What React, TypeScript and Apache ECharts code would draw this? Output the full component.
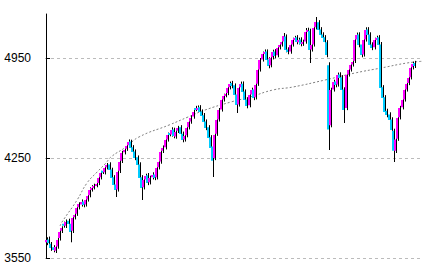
import React, { useEffect, useRef } from "react";
import * as echarts from "echarts";

// Daily candles, index 0..171 (left to right)
const opens = [
  3660, 3680, 3650, 3625, 3600, 3630, 3690, 3740, 3790, 3775,
  3810, 3790, 3740, 3835, 3860, 3905, 3925, 3945, 3925, 3960,
  3990, 4030, 4045, 4060, 4075, 4115, 4160, 4150, 4185, 4205,
  4170, 4115, 4065, 4030, 4160, 4230, 4290, 4315, 4340, 4365,
  4325, 4295, 4255, 4205, 4115, 4045, 4100, 4130, 4080, 4115,
  4135, 4115, 4185, 4225, 4300, 4325, 4380, 4425, 4415, 4450,
  4400, 4440, 4465, 4420, 4380, 4410, 4465, 4505, 4540, 4600,
  4590, 4605, 4575, 4550, 4505, 4465, 4395, 4330, 4250, 4420,
  4520, 4590, 4660, 4690, 4705, 4745, 4775, 4760, 4695, 4625,
  4745, 4770, 4715, 4660, 4620, 4695, 4730, 4675, 4770, 4870,
  4940, 4985, 4995, 4940, 4900, 4955, 4995, 4970, 5025, 5045,
  5065, 5100, 5010, 4995, 5045, 5080, 5095, 5060, 5080, 5050,
  5065, 5135, 5140, 5010, 5045, 5165, 5200, 5150, 5115, 5095,
  5060, 4900, 4480, 4730, 4785, 4765, 4835, 4815, 4730, 4600,
  4835, 4870, 4905, 4930, 5080, 5115, 5045, 4975, 5080, 5150,
  5115, 5045, 5025, 5080, 5095, 5045, 4745, 4675, 4580, 4555,
  4520, 4440, 4300, 4385, 4535, 4605, 4660, 4730, 4775, 4815,
  4885, 4915,
];
const closes = [
  3676, 3655, 3620, 3606, 3627, 3676, 3732, 3760, 3781, 3802,
  3788, 3732, 3830, 3851, 3900, 3928, 3942, 3921, 3956, 3984,
  4026, 4040, 4054, 4068, 4110, 4145, 4152, 4180, 4201, 4166,
  4110, 4061, 4026, 4152, 4222, 4285, 4306, 4334, 4362, 4320,
  4292, 4250, 4201, 4110, 4040, 4096, 4124, 4075, 4110, 4131,
  4110, 4180, 4222, 4292, 4320, 4376, 4411, 4418, 4446, 4404,
  4432, 4460, 4418, 4376, 4404, 4460, 4502, 4530, 4572, 4593,
  4600, 4572, 4544, 4502, 4460, 4390, 4320, 4230, 4411, 4516,
  4586, 4656, 4684, 4698, 4740, 4768, 4754, 4691, 4621, 4740,
  4768, 4712, 4656, 4614, 4691, 4726, 4670, 4761, 4866, 4936,
  4978, 4992, 4936, 4894, 4950, 4992, 4964, 5020, 5041, 5062,
  5104, 5006, 4992, 5041, 5076, 5090, 5062, 5076, 5048, 5062,
  5132, 5146, 5006, 5041, 5160, 5202, 5146, 5111, 5090, 5062,
  4971, 4450, 4726, 4782, 4761, 4831, 4810, 4726, 4586, 4831,
  4866, 4901, 4922, 5076, 5111, 5041, 4971, 5076, 5146, 5111,
  5041, 5020, 5076, 5090, 5041, 4740, 4670, 4572, 4551, 4516,
  4446, 4300, 4380, 4530, 4600, 4656, 4726, 4768, 4810, 4880,
  4908, 4894,
];
const lows = [
  3640, 3635, 3600, 3590, 3585, 3615, 3672, 3725, 3762, 3760,
  3770, 3660, 3725, 3820, 3845, 3890, 3910, 3905, 3910, 3945,
  3975, 4015, 4030, 4045, 4060, 4100, 4138, 4135, 4170, 4150,
  4095, 4045, 3977, 4015, 4145, 4215, 4275, 4300, 4325, 4305,
  4275, 4235, 4185, 4090, 3956, 4030, 4085, 4060, 4065, 4100,
  4095, 4100, 4170, 4210, 4285, 4310, 4365, 4402, 4400, 4388,
  4385, 4425, 4402, 4360, 4365, 4395, 4450, 4490, 4525, 4578,
  4575, 4556, 4528, 4486, 4445, 4372, 4300, 4117, 4235, 4405,
  4505, 4575, 4645, 4675, 4690, 4730, 4738, 4675, 4565, 4610,
  4730, 4696, 4640, 4598, 4605, 4680, 4655, 4660, 4755, 4855,
  4925, 4970, 4920, 4878, 4885, 4940, 4948, 4955, 5010, 5030,
  5050, 4990, 4976, 4980, 5030, 5065, 5046, 5045, 5032, 5035,
  5050, 5120, 4915, 4995, 5030, 5150, 5130, 5095, 5075, 5046,
  4955, 4306, 4465, 4715, 4745, 4750, 4795, 4710, 4495, 4585,
  4820, 4855, 4890, 4915, 5065, 5025, 4955, 4960, 5065, 5095,
  5025, 5005, 5010, 5065, 5025, 4725, 4655, 4556, 4535, 4500,
  4430, 4222, 4285, 4370, 4520, 4590, 4645, 4715, 4760, 4800,
  4870, 4880,
];
const highs = [
  3695, 3700, 3662, 3640, 3645, 3690, 3750, 3772, 3805, 3820,
  3825, 3800, 3845, 3870, 3915, 3940, 3960, 3955, 3975, 3998,
  4045, 4060, 4070, 4085, 4125, 4160, 4172, 4196, 4215, 4220,
  4182, 4130, 4078, 4168, 4240, 4300, 4325, 4352, 4380, 4378,
  4340, 4310, 4268, 4220, 4130, 4112, 4140, 4145, 4126, 4150,
  4150, 4195, 4238, 4305, 4338, 4390, 4428, 4440, 4465, 4462,
  4448, 4475, 4480, 4435, 4420, 4475, 4518, 4548, 4588, 4615,
  4618, 4620, 4590, 4565, 4520, 4480, 4410, 4342, 4425, 4530,
  4600, 4672, 4700, 4715, 4758, 4785, 4790, 4772, 4710, 4755,
  4785, 4786, 4730, 4675, 4705, 4742, 4745, 4778, 4880, 4950,
  4995, 5010, 5010, 4955, 4968, 5008, 5012, 5035, 5058, 5080,
  5125, 5115, 5025, 5058, 5092, 5105, 5110, 5092, 5095, 5078,
  5160, 5162, 5155, 5056, 5178, 5237, 5215, 5166, 5130, 5110,
  5075, 4920, 4742, 4798, 4800, 4848, 4850, 4830, 4745, 4845,
  4880, 4918, 4940, 5092, 5128, 5130, 5060, 5092, 5165, 5166,
  5130, 5060, 5092, 5106, 5110, 5062, 4760, 4690, 4595, 4570,
  4535, 4455, 4395, 4545, 4615, 4672, 4742, 4782, 4826, 4895,
  4925, 4930,
];

// Dotted trend curve: [day index, value]
const trendIdx = [6.5, 7.4, 14.4, 19, 23.7, 27.8, 30.1, 37.1, 43.1, 57.1, 65.9, 73.8, 85.8, 94.7, 105.3, 114.6, 129.5, 143.4, 155.5, 167.5, 174.5];
const trendVal = [3774, 3802, 3956, 4075, 4152, 4215, 4257, 4327, 4397, 4481, 4537, 4586, 4642, 4677, 4726, 4747, 4796, 4845, 4880, 4915, 4927];

const yTicks = [3550, 4250, 4950];
const SLOTS = 175;

const UP = "#FF00FF";
const DOWN = "#00CCFF";

export default function App() {
  const ref = useRef<HTMLDivElement>(null);
  useEffect(() => {
    if (!ref.current) return;
    const chart = echarts.init(ref.current, null, { renderer: "svg" });
    const candleData = closes.map((c, i) => [i, opens[i], c, lows[i], highs[i]]);
    const trendData = trendIdx.map((x, i) => [x, trendVal[i]]);
    chart.setOption({
      animation: false,
      grid: { left: 45, right: 9, top: 14, bottom: 14 },
      xAxis: { type: "value", min: -0.5, max: SLOTS - 0.5, show: false },
      yAxis: {
        type: "value",
        min: 3550,
        max: 5258,
        interval: 700,
        axisLine: { show: true, lineStyle: { color: "#000", width: 1 } },
        axisTick: { show: true, inside: true, length: 4, lineStyle: { color: "#000" }, customValues: yTicks },
        axisLabel: {
          customValues: yTicks,
          formatter: (v: number) => String(v),
          color: "#000",
          fontSize: 12,
          fontFamily: "'Liberation Sans', sans-serif",
          margin: 14,
        },
        splitLine: { show: true, lineStyle: { color: "#bbb", type: [3, 3], width: 1 } },
      },
      series: [
        {
          type: "line",
          data: trendData,
          smooth: true,
          showSymbol: false,
          symbol: "none",
          lineStyle: { color: "#808080", width: 1, type: [2, 2] },
          z: 1,
        },
        {
          type: "custom",
          data: candleData,
          encode: { x: 0, y: [1, 2, 3, 4] },
          z: 2,
          renderItem: (params: any, api: any) => {
            const i = api.value(0);
            const o = api.value(1);
            const c = api.value(2);
            const l = api.value(3);
            const h = api.value(4);
            const pO = api.coord([i, o]);
            const pC = api.coord([i, c]);
            const pL = api.coord([i, l]);
            const pH = api.coord([i, h]);
            const x = Math.round(pO[0]);
            const top = Math.min(pO[1], pC[1]);
            const hgt = Math.max(2, Math.abs(pO[1] - pC[1]));
            return {
              type: "group",
              children: [
                {
                  type: "rect",
                  shape: { x: x - 1, y: top, width: 2, height: hgt },
                  style: { fill: c >= o ? UP : DOWN },
                },
                {
                  type: "line",
                  shape: { x1: x + 1.5, y1: pH[1], x2: x + 1.5, y2: pL[1] },
                  style: { stroke: "#000", lineWidth: 1 },
                },
              ],
            };
          },
        },
      ],
    });
    return () => chart.dispose();
  }, []);
  return <div ref={ref} style={{ width: 431, height: 272, position: "absolute", left: 0, top: 0 }} />;
}
